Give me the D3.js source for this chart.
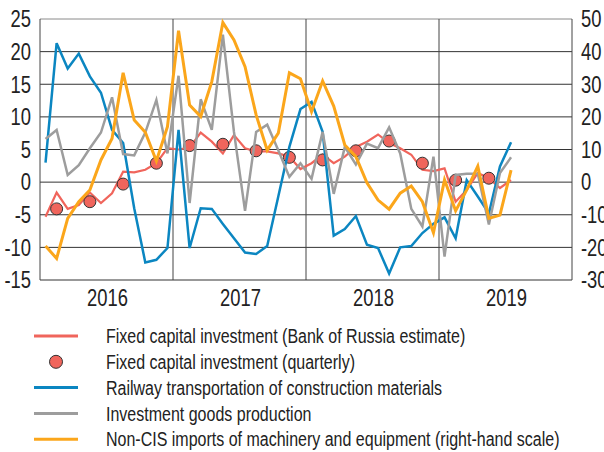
<!DOCTYPE html>
<html>
<head>
<meta charset="utf-8">
<script src="https://cdn.jsdelivr.net/npm/d3@7"></script>
<style>
  body { margin: 0; background: #fff; }
  svg { display: block; }
  text { font-family: 'Liberation Sans', Arial, sans-serif; fill: #222; }
</style>
</head>
<body>
<svg id="chart" width="604" height="452"></svg>
<script>
// monthly values, Jan 2016 .. Jul 2019
const fixedEstimate = [-5.3, -1.6, -4.1, -3.5, -1.6, -3.2, -1.7, 1.6, 1.5, 1.9, 2.9, 5.2,
  5.0, 5.3, 7.6, 6.2, 4.4, 7.2, 5.2, 4.7, 4.7, 4.4, 3.9, 2.0,
  2.9, 4.2, 2.9, 3.9, 5.4, 6.2, 7.3, 6.0, 5.2, 4.2, 1.9, 1.7,
  2.1, -3.0, -1.2, 1.4, 0.6, -0.9, 0.3]
// quarterly, Q1 2016 .. Q2 2019 (plotted at mid-quarter)
const fixedQuarterly = [-4.1, -3.0, -0.3, 2.9, 5.6, 5.8, 4.8, 3.8, 3.4, 4.8, 6.3, 2.9, 0.3, 0.6]
const railway = [3.0, 21.3, 17.4, 19.7, 16.2, 13.7, 8.0, 6.0, -4.0, -12.3, -11.9, -10.1,
  8.0, -10.1, -4.0, -4.1, -6.4, -8.6, -10.8, -11.0, -9.8, -2.2, 5.4, 11.2,
  12.3, 7.7, -8.2, -7.2, -5.2, -9.6, -10.1, -14.0, -10.0, -9.8, -7.8, -6.4,
  -5.4, -8.6, 0.3, -2.2, -4.8, 2.4, 6.1]
const investGoods = [6.6, 8.0, 1.1, 2.6, 5.2, 7.6, 13.0, 4.3, 4.1, 7.6, 12.6, 4.4,
  16.3, -3.2, 12.7, 8.0, 22.6, 7.7, -4.4, 7.7, 8.8, 4.9, 0.8, 2.9,
  0.5, 7.7, -1.8, 5.4, 2.7, 5.9, 5.2, 8.4, 4.4, -4.1, -6.8, 3.9,
  -11.4, 1.1, 1.3, 1.3, -6.5, 1.4, 3.8]
// right-hand scale
const nonCisImports = [-19.6, -23.4, -11.1, -6.0, -2.4, 6.8, 13.4, 33.5, 19.0, 15.3, 6.5, 17.0,
  46.4, 23.6, 20.1, 30.8, 48.9, 43.6, 35.4, 20.6, 9.8, 15.0, 33.5, 31.7,
  21.6, 31.0, 23.3, 11.4, 7.8, -0.2, -5.5, -8.3, -3.4, -1.2, -6.0, -15.5,
  0.7, -8.8, -2.4, 4.9, -11.1, -10.1, 3.7]

const years = ['2016', '2017', '2018', '2019']
const leftTicks = [25, 20, 15, 10, 5, 0, -5, -10, -15]
const rightTicks = [50, 40, 30, 20, 10, 0, -10, -20, -30]
const legendLabels = [
  'Fixed capital investment (Bank of Russia estimate)',
  'Fixed capital investment (quarterly)',
  'Railway transportation of construction materials',
  'Investment goods production',
  'Non-CIS imports of machinery and equipment (right-hand scale)'
]

const colors = { red: '#f0655c', blue: '#0b86c1', gray: '#9d9d9d', orange: '#fba61b' }
const margin = { left: 40, right: 32, top: 19 }
const width = 604 - margin.left - margin.right
const height = 261
const narrow = 0.8 // no condensed font installed, so squeeze Liberation Sans

const svg = d3.select('#chart')
const g = svg.append('g').attr('transform', `translate(${margin.left},${margin.top})`)

// condensed-looking text
function label(parent, px, py, str, size, anchor) {
  parent.append('g')
    .attr('transform', `translate(${px},${py}) scale(${narrow},1)`)
    .append('text')
    .attr('dy', '0.36em')
    .attr('text-anchor', anchor)
    .attr('font-size', size)
    .text(str)
}

// month index scale (0 = Jan 2016), points sit mid-month
const x = d3.scaleLinear().domain([0, years.length * 12]).range([0, width])
const yL = d3.scaleLinear().domain([-15, 25]).range([height, 0])
const yR = d3.scaleLinear().domain([-30, 50]).range([height, 0])

// horizontal grid
g.selectAll('line.grid')
  .data(leftTicks)
  .enter()
  .append('line')
  .attr('x1', 0)
  .attr('x2', width)
  .attr('y1', (d) => yL(d))
  .attr('y2', (d) => yL(d))
  .attr('stroke', (d) => (d === 25 ? '#8a8a8a' : '#333'))
  .attr('stroke-width', 1)

// year separators + frame sides
g.selectAll('line.year')
  .data(d3.range(0, years.length + 1))
  .enter()
  .append('line')
  .attr('x1', (d) => x(d * 12))
  .attr('x2', (d) => x(d * 12))
  .attr('y1', 0)
  .attr('y2', height)
  .attr('stroke', '#444')
  .attr('stroke-width', 1)

// tick labels
leftTicks.forEach((d) => label(g, -9, yL(d), d, '23px', 'end'))
rightTicks.forEach((d) => label(g, width + 9, yR(d), d, '23px', 'start'))
years.forEach((d, i) => label(g, x(i * 12 + 6) + 1, height + 18, d, '23px', 'middle'))

// series
const lineL = d3.line().x((d, i) => x(i + 0.5)).y((d) => yL(d))
const lineR = d3.line().x((d, i) => x(i + 0.5)).y((d) => yR(d))

g.append('path').datum(fixedEstimate)
  .attr('d', lineL).attr('fill', 'none').attr('stroke', colors.red).attr('stroke-width', 2.2)

g.selectAll('circle.q')
  .data(fixedQuarterly)
  .enter()
  .append('circle')
  .attr('cx', (d, i) => x(i * 3 + 1.5))
  .attr('cy', (d) => yL(d))
  .attr('r', 6)
  .attr('fill', colors.red)
  .attr('stroke', '#333')
  .attr('stroke-width', 1)

g.append('path').datum(railway)
  .attr('d', lineL).attr('fill', 'none').attr('stroke', colors.blue).attr('stroke-width', 2.5)

g.append('path').datum(investGoods)
  .attr('d', lineL).attr('fill', 'none').attr('stroke', colors.gray).attr('stroke-width', 2.5)

g.append('path').datum(nonCisImports)
  .attr('d', lineR).attr('fill', 'none').attr('stroke', colors.orange).attr('stroke-width', 3)

// legend
const legend = svg.append('g').attr('transform', 'translate(0,336)')
const legendKeys = ['line', 'dot', 'line', 'line', 'line']
const legendColors = [colors.red, colors.red, colors.blue, colors.gray, colors.orange]

legendKeys.forEach((k, i) => {
  const row = legend.append('g').attr('transform', `translate(0,${i * 25.8})`)
  if (k === 'dot') {
    row.append('circle').attr('cx', 56).attr('cy', 0).attr('r', 6.5)
      .attr('fill', legendColors[i]).attr('stroke', '#333').attr('stroke-width', 1)
  } else {
    row.append('line').attr('x1', 34).attr('x2', 78).attr('y1', 0).attr('y2', 0)
      .attr('stroke', legendColors[i]).attr('stroke-width', 3)
  }
  label(row, 106, 0, legendLabels[i], '20px', 'start')
})
</script>
</body>
</html>
